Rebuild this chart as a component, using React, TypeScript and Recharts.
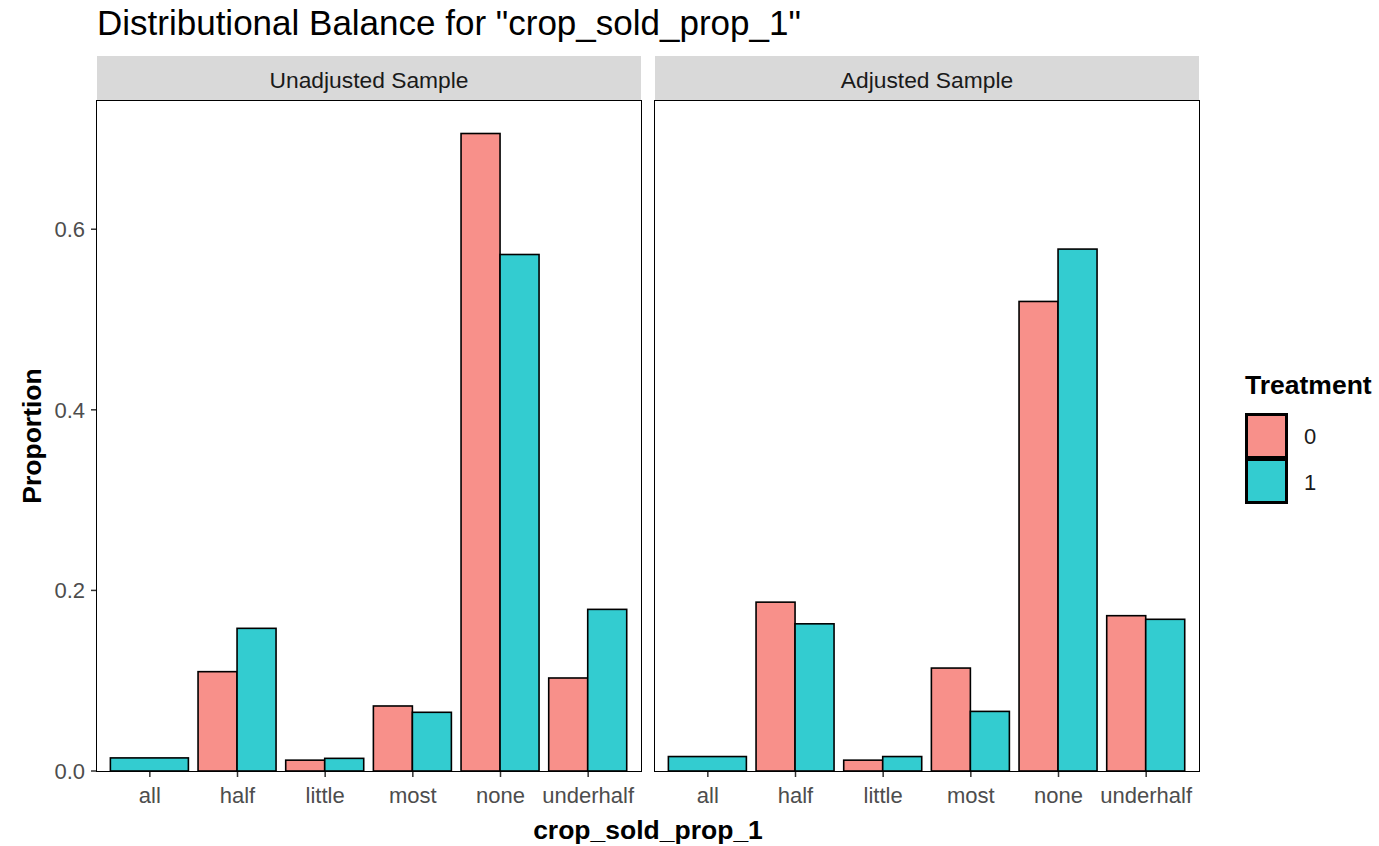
import React from 'react';
import { BarChart, Bar, XAxis, YAxis } from 'recharts';

const categories = ['all', 'half', 'little', 'most', 'none', 'underhalf'];
const unadjusted0 = [null, 0.11, 0.012, 0.072, 0.706, 0.103];
const unadjusted1 = [0.0145, 0.158, 0.014, 0.065, 0.572, 0.179];
const adjusted0 = [null, 0.187, 0.012, 0.114, 0.52, 0.172];
const adjusted1 = [0.016, 0.163, 0.016, 0.066, 0.578, 0.168];
const yTicks = [0, 0.2, 0.4, 0.6];
const treatments = ['0', '1'];

const COLORS = ['#F8908A', '#33CCD0'];
const FONT = '"Liberation Sans", Arial, sans-serif';

const PANEL_TOP = 101;
const PANEL_H = 670;
const PANEL_W = 544;
const LEFT_X = 97;
const RIGHT_X = 655;
const Y_MAX = 0.742;

const buildRows = (t0: (number | null)[], t1: (number | null)[]) =>
  categories.map((c, i) => ({ category: c, t0: t0[i], t1: t1[i] }));

const unadjustedRows = buildRows(unadjusted0, unadjusted1);
const adjustedRows = buildRows(adjusted0, adjusted1);

// treatment 0 bar: nothing drawn when the group is missing
const PinkShape = (props: any) => {
  const { x, y, width, height, payload } = props;
  if (payload.t0 == null) return <g />;
  return <rect x={x} y={y} width={width} height={height} fill={COLORS[0]} stroke="#000" strokeWidth={1.6} />;
};

// treatment 1 bar: takes the full dodge width when treatment 0 is missing (like ggplot)
const CyanShape = (props: any) => {
  const { x, y, width, height, payload } = props;
  const left = payload.t0 == null ? x - width : x;
  const w = payload.t0 == null ? width * 2 : width;
  return <rect x={left} y={y} width={w} height={height} fill={COLORS[1]} stroke="#000" strokeWidth={1.6} />;
};

const tickStyle = { fontSize: 22, fill: '#4d4d4d', fontFamily: FONT };

const Panel = ({ rows, showY }: { rows: any[]; showY: boolean }) => {
  const yWidth = showY ? 60 : 0;
  return (
    <BarChart
      width={PANEL_W + yWidth}
      height={PANEL_H + 44}
      data={rows}
      margin={{ top: 0, right: 0, bottom: 0, left: 0 }}
      barCategoryGap="5%"
      barGap={0}
    >
      <XAxis
        dataKey="category"
        padding={{ left: 9, right: 9 }}
        axisLine={false}
        tickLine={{ stroke: '#333', strokeWidth: 1.5 }}
        tickSize={6}
        tickMargin={10}
        tick={tickStyle}
        interval={0}
        height={44}
      />
      <YAxis
        hide={!showY}
        width={yWidth}
        domain={[0, Y_MAX]}
        ticks={yTicks}
        allowDataOverflow
        axisLine={false}
        tickLine={{ stroke: '#333', strokeWidth: 1.5 }}
        tickSize={6}
        tickMargin={6}
        tick={tickStyle}
        tickFormatter={(v: number) => v.toFixed(1)}
      />
      <Bar dataKey="t0" shape={PinkShape} isAnimationActive={false} />
      <Bar dataKey="t1" shape={CyanShape} isAnimationActive={false} />
    </BarChart>
  );
};

const Strip = ({ x, label }: { x: number; label: string }) => (
  <div
    style={{
      position: 'absolute', left: x, top: 56, width: PANEL_W, height: 45,
      background: '#d9d9d9', color: '#1a1a1a', fontSize: 22.8, fontFamily: FONT,
      display: 'flex', alignItems: 'center', justifyContent: 'center', paddingTop: 4, boxSizing: 'border-box',
    }}
  >
    {label}
  </div>
);

const Border = ({ x }: { x: number }) => (
  <div
    style={{
      position: 'absolute', left: x - 1, top: PANEL_TOP - 1, width: PANEL_W + 2, height: PANEL_H + 2,
      border: '1.6px solid #000', boxSizing: 'border-box', pointerEvents: 'none',
    }}
  />
);

export default function App() {
  return (
    <div style={{ position: 'absolute', left: 0, top: 0, width: 1379, height: 846, background: '#fff', fontFamily: FONT }}>
      <div style={{ position: 'absolute', left: 97, top: 3, fontSize: 35, color: '#000', whiteSpace: 'nowrap' }}>
        Distributional Balance for "crop_sold_prop_1"
      </div>

      <Strip x={LEFT_X} label="Unadjusted Sample" />
      <Strip x={RIGHT_X} label="Adjusted Sample" />

      <div style={{ position: 'absolute', left: LEFT_X - 60, top: PANEL_TOP }}>
        <Panel rows={unadjustedRows} showY />
      </div>
      <div style={{ position: 'absolute', left: RIGHT_X, top: PANEL_TOP }}>
        <Panel rows={adjustedRows} showY={false} />
      </div>

      <Border x={LEFT_X} />
      <Border x={RIGHT_X} />

      <div
        style={{
          position: 'absolute', left: 32, top: 436, transform: 'translate(-50%, -50%) rotate(-90deg)',
          fontSize: 26.5, fontWeight: 'bold', whiteSpace: 'nowrap',
        }}
      >
        Proportion
      </div>
      <div
        style={{
          position: 'absolute', left: 648, top: 830, transform: 'translate(-50%, -50%)',
          fontSize: 26.5, fontWeight: 'bold', whiteSpace: 'nowrap',
        }}
      >
        crop_sold_prop_1
      </div>

      <div style={{ position: 'absolute', left: 1245, top: 370, fontSize: 26.5, fontWeight: 'bold', whiteSpace: 'nowrap' }}>
        Treatment
      </div>
      {treatments.map((t, i) => (
        <React.Fragment key={t}>
          <div
            style={{
              position: 'absolute', left: 1245, top: 413 + i * 46, width: 43, height: 46,
              background: COLORS[i], border: '3px solid #000', boxSizing: 'border-box',
              marginTop: i === 0 ? 0 : -1.5,
            }}
          />
          <div style={{ position: 'absolute', left: 1304, top: 424 + i * 46, fontSize: 22, color: '#1a1a1a' }}>{t}</div>
        </React.Fragment>
      ))}
    </div>
  );
}
